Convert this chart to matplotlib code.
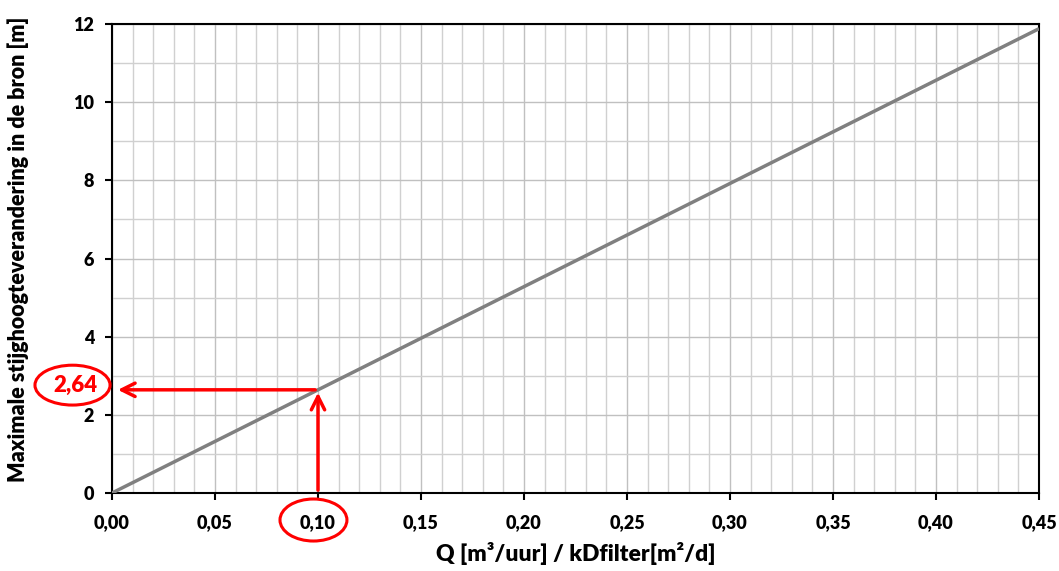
import numpy as np
import matplotlib.pyplot as plt
from matplotlib.patches import Ellipse
from matplotlib.ticker import MultipleLocator, FuncFormatter
import matplotlib.transforms as mtransforms

plt.rcParams['font.family'] = ['Lato', 'DejaVu Sans']
W = 'heavy'

# stijghoogte per eenheid Q/kD
q_kd = [0.0, 0.45]
slope = 26.4
stijging = [q * slope for q in q_kd]

q_read = 0.10
h_read = 2.64
h_label = "2,64"

xticks = [0.0, 0.05, 0.10, 0.15, 0.20, 0.25, 0.30, 0.35, 0.40, 0.45]
yticks = [0, 2, 4, 6, 8, 10, 12]

fig = plt.figure(figsize=(10.59, 5.71), dpi=100)
ax = fig.add_axes([112 / 1059, 1 - 493 / 571, 927 / 1059, 469 / 571])

ax.set_xlim(0, 0.45)
ax.set_ylim(0, 12)
ax.set_xticks(xticks)
ax.set_yticks(yticks)
ax.xaxis.set_minor_locator(MultipleLocator(0.01))
ax.yaxis.set_minor_locator(MultipleLocator(1))
ax.xaxis.set_major_formatter(FuncFormatter(lambda v, p: f"{v:.2f}".replace(".", ",")))
ax.yaxis.set_major_formatter(FuncFormatter(lambda v, p: f"{v:.0f}"))
ax.tick_params(which='minor', length=0)
ax.tick_params(which='major', length=5, width=1.5, labelsize=13)
for lbl in ax.get_xticklabels() + ax.get_yticklabels():
    lbl.set_fontweight(W)
ax.tick_params(axis='x', pad=10.5)
ax.tick_params(axis='y', pad=8)
ax.grid(which='major', color='#c0c0c0', lw=1)
ax.grid(which='minor', color='#d0d0d0', lw=1)
ax.set_axisbelow(True)
for s in ax.spines.values():
    s.set_linewidth(1.5)
    s.set_color('black')

ax.plot(q_kd, stijging, color='#808080', lw=2.5, solid_capstyle='butt', zorder=3)

# aflezing met pijlen
ax.annotate('', xy=(q_read, h_read), xytext=(q_read, 0),
            arrowprops=dict(arrowstyle='->', color='red', lw=2.5, mutation_scale=24),
            zorder=4)
ax.annotate('', xy=(0.0015, h_read), xytext=(q_read, h_read),
            arrowprops=dict(arrowstyle='->', color='red', lw=2.5, mutation_scale=24),
            zorder=4)

trans = mtransforms.blended_transform_factory(ax.transData, ax.transAxes)
ax.add_patch(Ellipse((0.0978, -0.0576), 0.0325, 0.0896, transform=trans,
                     fill=False, edgecolor='red', lw=2.2, clip_on=False))
ax.add_patch(Ellipse((-0.0426, 0.230), 0.081, 0.085, transform=ax.transAxes,
                     facecolor='white', edgecolor='red', lw=2.2, clip_on=False, zorder=5))
ax.text(-0.0392, 0.230, h_label, transform=ax.transAxes, ha='center', va='center',
        color='red', fontsize=16, fontweight=W, zorder=6, clip_on=False)

ax.set_xlabel("Q [m³/uur] / kDfilter[m²/d]", fontsize=16.5, fontweight=W)
ax.xaxis.set_label_coords(0.5, -0.105)
ax.set_ylabel("Maximale stijghoogteverandering in de bron [m]", fontsize=15.5,
              fontweight=W)
ax.yaxis.set_label_coords(-0.089, 0.52)

fig.savefig('out.png', dpi=100)
